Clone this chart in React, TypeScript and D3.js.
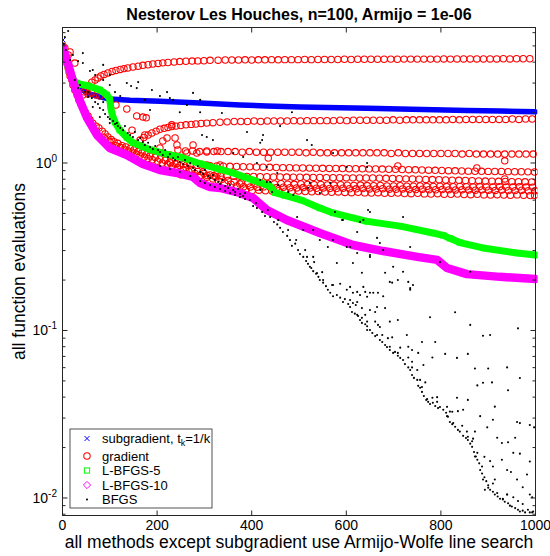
import React from "react";
import * as d3 from "d3";

const FONT = "'Liberation Sans', Arial, Helvetica, sans-serif";

const xTickValues = [0, 200, 400, 600, 800, 1000];
const yTickExponents = [-2, -1, 0];
const xDomain = [0, 1000];
const yDomain = [0.00786, 6.44];

const titleText = "Nesterov Les Houches, n=100, Armijo = 1e-06";
const xLabelText = "all methods except subgradient use Armijo-Wolfe line search";
const yLabelText = "all function evaluations";

// subgradient, t_k = 1/k
const subgradIter = [1, 7, 16, 26, 37, 58, 79, 100, 143, 206, 291, 375, 432, 502, 644, 714, 855, 925, 999];
const subgradVal = [5.42, 4.24, 3.49, 3.04, 2.77, 2.58, 2.48, 2.41, 2.37, 2.34, 2.28, 2.22, 2.19, 2.16, 2.12, 2.1, 2.06, 2.04, 2.02];

// gradient (red circles)
const gradStart = [[5, 4.86], [12, 4.41], [16, 4.6], [26, 3.95], [45, 2.66], [54, 2.58], [62, 2.62], [71, 2.55], [79, 2.51]];
const gradDescend = [[1, 5.0], [3, 4.6], [5, 4.35], [7, 4.12], [10, 3.9], [12, 3.69], [14, 3.49], [16, 3.31], [20, 3.13], [22, 2.92], [26, 2.73], [31, 2.55], [35, 2.38], [39, 2.25], [43, 2.13], [48, 2.01], [54, 1.91], [58, 1.81], [64, 1.73], [71, 1.66], [77, 1.62], [84, 1.55], [90, 1.49], [96, 1.43], [103, 1.38], [109, 1.34], [117, 1.31], [126, 1.27], [134, 1.246], [143, 1.22], [151, 1.196], [160, 1.17], [168, 1.147], [177, 1.12], [185, 1.1], [196, 1.08], [206, 1.056], [217, 1.035], [227, 1.014], [238, 0.986], [248, 0.966], [261, 0.94], [274, 0.915], [286, 0.89], [299, 0.866], [312, 0.848], [324, 0.825], [337, 0.8], [350, 0.786], [363, 0.77], [375, 0.75]];
const gradDescend2 = [[88, 1.41], [100, 1.345], [113, 1.27], [122, 1.24], [130, 1.21], [139, 1.18], [147, 1.16], [156, 1.13], [164, 1.11], [173, 1.085], [181, 1.065], [190, 1.045], [201, 1.025], [211, 1.0], [222, 0.985], [232, 0.963], [243, 0.937], [255, 0.915], [267, 0.89], [280, 0.867], [292, 0.845], [305, 0.823], [318, 0.803], [330, 0.78], [343, 0.76], [356, 0.747], [369, 0.73]];
const gradRowACurve = [[43, 2.55], [50, 2.76], [56, 2.88], [62, 3.04], [69, 3.13], [75, 3.22], [81, 3.31], [88, 3.38], [96, 3.45], [105, 3.52], [113, 3.57], [122, 3.62], [130, 3.66], [138, 3.69], [149, 3.74], [160, 3.78], [170, 3.83], [181, 3.86], [191, 3.9], [202, 3.93], [212, 3.96], [223, 3.98], [236, 4.01], [248, 4.03], [261, 4.05], [274, 4.06], [286, 4.07], [299, 4.08], [312, 4.1], [329, 4.11], [344, 4.12], [358, 4.12]];
const gradRowA = [[372, 4.12], [386, 4.13], [400, 4.12], [414, 4.13], [428, 4.13], [442, 4.14], [456, 4.13], [470, 4.14], [484, 4.14], [498, 4.14], [512, 4.15], [526, 4.14], [540, 4.15], [554, 4.15], [568, 4.15], [582, 4.15], [596, 4.16], [610, 4.15], [624, 4.16], [638, 4.16], [652, 4.16], [666, 4.16], [680, 4.16], [694, 4.17], [708, 4.16], [722, 4.17], [736, 4.17], [750, 4.17], [764, 4.17], [778, 4.17], [792, 4.17], [806, 4.18], [820, 4.17], [834, 4.18], [848, 4.18], [862, 4.18], [876, 4.18], [890, 4.18], [904, 4.18], [918, 4.18], [932, 4.19], [946, 4.18], [960, 4.19], [974, 4.19], [988, 4.19]];
const gradRowBCurve = [[164, 1.37], [172, 1.42], [181, 1.47], [189, 1.51], [198, 1.55], [206, 1.59], [215, 1.61], [223, 1.63], [231, 1.65], [240, 1.66], [250, 1.675], [261, 1.69], [272, 1.7], [282, 1.71], [293, 1.72], [305, 1.73], [318, 1.74], [333, 1.75], [348, 1.76], [363, 1.77]];
const gradRowB = [[377, 1.77], [391, 1.77], [405, 1.78], [419, 1.77], [433, 1.78], [447, 1.78], [461, 1.78], [475, 1.78], [489, 1.79], [503, 1.78], [517, 1.79], [531, 1.79], [545, 1.79], [559, 1.79], [573, 1.79], [587, 1.8], [601, 1.79], [615, 1.8], [629, 1.8], [643, 1.8], [657, 1.8], [671, 1.8], [685, 1.8], [699, 1.81], [713, 1.8], [727, 1.81], [741, 1.81], [755, 1.81], [769, 1.81], [783, 1.81], [797, 1.81], [811, 1.81], [825, 1.82], [839, 1.81], [853, 1.82], [867, 1.82], [881, 1.82], [895, 1.82], [909, 1.82], [923, 1.82], [937, 1.82], [951, 1.83], [965, 1.82], [979, 1.83], [993, 1.83]];
const gradRowC = [[260, 1.18], [275, 1.18], [290, 1.17], [305, 1.18], [320, 1.17], [335, 1.17], [350, 1.17], [365, 1.17], [380, 1.16], [395, 1.17], [410, 1.16], [425, 1.16], [440, 1.16], [455, 1.16], [470, 1.16], [485, 1.16], [500, 1.16], [515, 1.15], [530, 1.16], [545, 1.15], [560, 1.15], [575, 1.15], [590, 1.15], [605, 1.15], [620, 1.15], [635, 1.15], [650, 1.15], [665, 1.15], [680, 1.15], [695, 1.14], [710, 1.15], [725, 1.14], [740, 1.14], [755, 1.14], [770, 1.14], [785, 1.14], [800, 1.14], [815, 1.14], [830, 1.14], [845, 1.13], [860, 1.14], [875, 1.13], [890, 1.13], [905, 1.13], [920, 1.13], [935, 1.13], [950, 1.13], [965, 1.13], [980, 1.13], [995, 1.13]];
const gradRowD = [[228, 1.0], [242, 0.99], [256, 0.98], [270, 0.975], [284, 0.97], [298, 0.966], [312, 0.962], [326, 0.96], [340, 0.958], [354, 0.955], [368, 0.953], [382, 0.95], [396, 0.948], [410, 0.946], [424, 0.944], [438, 0.942], [452, 0.94], [466, 0.938], [480, 0.936], [494, 0.935], [508, 0.933], [522, 0.932], [536, 0.93], [550, 0.929], [564, 0.928], [578, 0.927], [592, 0.926], [606, 0.925], [620, 0.924], [634, 0.923], [648, 0.922], [662, 0.921], [676, 0.92], [690, 0.918], [704, 0.916], [718, 0.914], [732, 0.912], [746, 0.91], [760, 0.908], [774, 0.906], [788, 0.904], [802, 0.902], [816, 0.9], [830, 0.898], [844, 0.896], [858, 0.894], [872, 0.893], [886, 0.892], [900, 0.891], [914, 0.89], [928, 0.889], [942, 0.888], [956, 0.887], [970, 0.886], [984, 0.885], [998, 0.884]];
const gradRowE = [[250, 0.85], [264, 0.848], [278, 0.846], [292, 0.844], [306, 0.842], [320, 0.84], [334, 0.838], [348, 0.836], [362, 0.834], [376, 0.833], [390, 0.832], [404, 0.83], [418, 0.829], [432, 0.828], [446, 0.826], [460, 0.825], [474, 0.824], [488, 0.823], [502, 0.822], [516, 0.821], [530, 0.82], [544, 0.819], [558, 0.818], [572, 0.817], [586, 0.816], [600, 0.815], [614, 0.815], [628, 0.814], [642, 0.814], [656, 0.813], [670, 0.812], [684, 0.81], [698, 0.808], [712, 0.806], [726, 0.804], [740, 0.802], [754, 0.8], [768, 0.798], [782, 0.796], [796, 0.794], [810, 0.792], [824, 0.79], [838, 0.788], [852, 0.786], [866, 0.784], [880, 0.782], [894, 0.78], [908, 0.779], [922, 0.777], [936, 0.776], [950, 0.774], [964, 0.773], [978, 0.772], [992, 0.77]];
const gradRowF1 = [[378, 0.76], [392, 0.757], [406, 0.755], [420, 0.758], [434, 0.752], [448, 0.75], [462, 0.753], [476, 0.748], [490, 0.746], [504, 0.749], [518, 0.744], [532, 0.742], [546, 0.745], [560, 0.74], [574, 0.738], [588, 0.741], [602, 0.736], [616, 0.735], [630, 0.738], [644, 0.733], [658, 0.732], [672, 0.735], [686, 0.73], [700, 0.729], [714, 0.732], [728, 0.727], [742, 0.726], [756, 0.729], [770, 0.725], [784, 0.724], [798, 0.727], [812, 0.723], [826, 0.722], [840, 0.725], [854, 0.721], [868, 0.72], [882, 0.723], [896, 0.72], [910, 0.719], [924, 0.722], [938, 0.719], [952, 0.718], [966, 0.721], [980, 0.718], [994, 0.717]];
const gradRowF2 = [[383, 0.722], [397, 0.719], [411, 0.717], [425, 0.72], [439, 0.715], [453, 0.713], [467, 0.716], [481, 0.711], [495, 0.71], [509, 0.713], [523, 0.708], [537, 0.707], [551, 0.71], [565, 0.705], [579, 0.704], [593, 0.707], [607, 0.702], [621, 0.701], [635, 0.704], [649, 0.7], [663, 0.699], [677, 0.702], [691, 0.697], [705, 0.696], [719, 0.699], [733, 0.695], [747, 0.694], [761, 0.697], [775, 0.693], [789, 0.692], [803, 0.695], [817, 0.691], [831, 0.69], [845, 0.693], [859, 0.689], [873, 0.688], [887, 0.691], [901, 0.687], [915, 0.686], [929, 0.689], [943, 0.685], [957, 0.684], [971, 0.687], [985, 0.683], [999, 0.682]];
const gradRowF3 = [[387, 0.69], [401, 0.686], [415, 0.688], [429, 0.683], [443, 0.681], [457, 0.684], [471, 0.679], [485, 0.677], [499, 0.68], [513, 0.675], [527, 0.673], [541, 0.676], [555, 0.671], [569, 0.669], [583, 0.672], [597, 0.667], [611, 0.665], [625, 0.668], [639, 0.663], [653, 0.662], [667, 0.665], [681, 0.66], [695, 0.659], [709, 0.662], [723, 0.657], [737, 0.656], [751, 0.659], [765, 0.654], [779, 0.653], [793, 0.656], [807, 0.651], [821, 0.65], [835, 0.653], [849, 0.648], [863, 0.647], [877, 0.65], [891, 0.645], [905, 0.644], [919, 0.647], [933, 0.643], [947, 0.642], [961, 0.645], [975, 0.641], [989, 0.64], [998, 0.642]];
const gradLoose = [[113, 2.22], [136, 2.1], [157, 1.91], [177, 1.86], [231, 1.69], [212, 1.353], [221, 1.41], [238, 1.41], [242, 1.28], [244, 1.196], [276, 1.28], [284, 1.147], [305, 1.163], [327, 1.179], [263, 1.147], [227, 1.116], [263, 0.973], [297, 0.884], [305, 0.973], [333, 0.973], [327, 0.872], [206, 1.229], [170, 1.88], [147, 1.57], [174, 1.47], [435, 1.07], [935, 1.03], [876, 0.934], [709, 0.96], [935, 0.803]];

// L-BFGS-5 (green squares)
const lbfgs5 = [[1, 4.8], [8, 4.0], [16, 3.45], [26, 3.05], [37, 2.95], [52, 2.9], [79, 2.73], [94, 2.55], [100, 2.4], [102, 2.15], [105, 1.95], [111, 1.75], [121, 1.57], [136, 1.42], [149, 1.32], [170, 1.25], [185, 1.2], [220, 1.13], [249, 1.086], [291, 0.99], [333, 0.915], [361, 0.872], [403, 0.79], [432, 0.74], [440, 0.72], [449, 0.665], [470, 0.64], [505, 0.6], [544, 0.538], [572, 0.503], [614, 0.47], [644, 0.448], [714, 0.42], [783, 0.382], [805, 0.37], [819, 0.355], [840, 0.335], [889, 0.311], [961, 0.29], [1000, 0.282]];

// L-BFGS-10 (magenta diamonds)
const lbfgs10 = [[1, 4.86], [10, 4.06], [22, 3.09], [37, 2.34], [52, 1.857], [73, 1.47], [100, 1.229], [136, 1.116], [170, 0.986], [206, 0.908], [242, 0.872], [276, 0.825], [291, 0.76], [312, 0.719], [333, 0.709], [375, 0.662], [403, 0.618], [432, 0.524], [474, 0.457], [544, 0.382], [614, 0.324], [678, 0.298], [750, 0.275], [792, 0.264], [813, 0.236], [855, 0.217], [925, 0.209], [1000, 0.203]];

// BFGS (black dots)
const bfgsEarly = [[12, 6.14], [5, 5.65], [3, 5.13], [7, 4.73], [16, 4.12], [22, 4.41], [33, 4.06], [43, 4.53], [43, 3.95], [58, 3.54], [64, 3.59], [69, 3.35], [86, 3.85], [86, 3.13], [100, 3.35], [100, 2.92], [136, 3.0], [145, 2.88], [157, 2.8], [160, 3.04], [189, 2.73], [206, 2.51], [221, 2.65], [227, 2.44], [234, 2.38], [263, 2.22], [276, 2.62], [291, 2.38], [291, 2.01], [337, 1.99], [295, 1.47], [305, 1.43], [318, 1.37], [390, 1.53], [422, 1.37], [460, 1.66], [485, 2.01], [517, 1.37], [527, 1.28], [418, 1.32], [572, 1.147], [644, 0.946], [424, 1.47], [86, 2.31], [64, 2.16], [79, 1.88], [100, 1.73], [115, 1.73], [54, 2.65], [111, 2.65], [122, 2.51], [174, 2.38], [185, 2.07], [248, 2.01]];
const bfgsCloud = [[26, 3.13], [33, 2.8], [37, 2.92], [48, 2.66], [54, 2.48], [62, 2.44], [69, 2.31], [75, 2.25], [79, 2.13], [86, 2.07], [90, 1.96], [96, 1.88], [100, 1.83], [107, 1.78], [111, 1.71], [117, 1.66], [122, 1.62], [128, 1.57], [132, 1.66], [138, 1.51], [143, 1.47], [149, 1.43], [153, 1.53], [160, 1.37], [164, 1.41], [170, 1.335], [174, 1.28], [181, 1.32], [185, 1.246], [191, 1.21], [196, 1.263], [202, 1.196], [206, 1.163], [212, 1.116], [217, 1.196], [223, 1.086], [227, 1.13], [234, 1.071], [238, 1.042], [244, 1.086], [248, 1.014], [255, 0.986], [259, 1.042], [265, 0.96], [270, 1.0], [276, 0.934], [280, 0.908], [286, 0.96], [291, 0.884], [297, 0.86], [301, 0.908], [308, 0.836], [312, 0.814], [318, 0.848], [322, 0.792], [329, 0.77], [333, 0.749], [339, 0.792], [344, 0.729], [350, 0.709], [354, 0.739], [361, 0.69], [365, 0.671], [371, 0.7], [375, 0.653], [382, 0.635], [386, 0.662], [206, 0.96], [227, 0.921], [248, 0.884], [270, 0.836], [291, 0.781], [301, 0.76], [312, 0.739], [322, 0.719], [333, 0.7], [344, 0.681], [354, 0.662], [365, 0.644], [375, 0.627], [386, 0.61], [396, 0.601]];
const bfgsRidge = [[403, 0.553], [411, 0.538], [422, 0.51], [428, 0.483], [439, 0.476], [447, 0.444], [454, 0.43], [460, 0.41], [466, 0.387], [475, 0.367], [481, 0.347], [485, 0.32], [492, 0.33], [498, 0.302], [502, 0.286], [509, 0.275], [515, 0.26], [519, 0.25], [526, 0.236], [530, 0.226], [536, 0.218], [541, 0.209], [544, 0.2], [551, 0.193], [557, 0.184], [561, 0.175], [566, 0.168], [572, 0.16], [580, 0.163], [587, 0.157], [593, 0.148], [597, 0.154], [604, 0.144], [608, 0.138], [612, 0.129], [618, 0.126], [625, 0.122], [629, 0.1155], [633, 0.111], [640, 0.109], [644, 0.106], [650, 0.1007], [655, 0.0966], [661, 0.0926], [665, 0.094], [671, 0.0877], [676, 0.0853], [682, 0.0819], [686, 0.0796], [692, 0.0765], [699, 0.0735], [703, 0.0745], [709, 0.0706], [714, 0.0686], [720, 0.0667], [724, 0.063], [731, 0.0602], [735, 0.0581], [739, 0.0542], [743, 0.0521], [750, 0.0507], [752, 0.0467], [756, 0.0455], [760, 0.043], [764, 0.0406], [769, 0.0385], [773, 0.0375], [777, 0.0364], [783, 0.037], [788, 0.0354], [794, 0.0344], [798, 0.0349], [805, 0.0336], [811, 0.0323], [815, 0.0306], [819, 0.0284], [824, 0.0276], [830, 0.0266], [836, 0.0255], [840, 0.0249], [847, 0.0235], [853, 0.0228], [857, 0.0222], [862, 0.0211], [866, 0.0202], [870, 0.0188], [874, 0.0177], [877, 0.0169], [881, 0.0161], [883, 0.0147], [887, 0.014], [892, 0.0133], [896, 0.0126], [900, 0.0119], [904, 0.0112], [910, 0.0109], [914, 0.0105], [920, 0.0102], [925, 0.0099], [931, 0.0098], [935, 0.0095], [942, 0.0093], [946, 0.009], [950, 0.0089], [957, 0.0087], [963, 0.0085], [967, 0.0083], [973, 0.0084], [978, 0.0082], [984, 0.0085], [988, 0.0082], [995, 0.0083], [409, 0.577], [434, 0.524], [456, 0.457], [477, 0.398], [494, 0.347], [513, 0.302], [532, 0.256], [549, 0.223], [570, 0.187], [620, 0.142], [640, 0.124], [667, 0.108], [688, 0.09], [714, 0.079], [739, 0.065], [767, 0.049], [792, 0.04], [819, 0.0328], [845, 0.027], [868, 0.0226], [892, 0.0176], [914, 0.0129], [940, 0.0105], [963, 0.0096]];
const bfgsScatter = [[496, 0.476], [509, 0.398], [530, 0.398], [544, 0.347], [561, 0.315], [576, 0.51], [591, 0.457], [580, 0.253], [608, 0.315], [623, 0.387], [623, 0.29], [636, 0.457], [646, 0.524], [650, 0.275], [665, 0.357], [678, 0.302], [682, 0.221], [699, 0.24], [697, 0.193], [657, 0.168], [636, 0.182], [665, 0.138], [614, 0.253], [650, 0.282], [633, 0.221], [720, 0.224], [692, 0.195], [709, 0.2], [735, 0.175], [741, 0.187], [608, 0.182], [623, 0.17], [629, 0.163], [640, 0.17], [650, 0.168], [667, 0.168], [678, 0.16], [608, 0.152], [614, 0.146], [623, 0.148], [633, 0.136], [650, 0.1325], [661, 0.129], [682, 0.136], [623, 0.124], [633, 0.119], [644, 0.113], [661, 0.113], [671, 0.105], [692, 0.113], [709, 0.1155], [644, 0.1007], [676, 0.094], [697, 0.091], [728, 0.094], [760, 0.0853], [788, 0.0853], [777, 0.12], [830, 0.1285], [862, 0.108], [889, 0.093], [904, 0.094], [963, 0.103], [692, 0.08], [731, 0.08], [739, 0.0765], [709, 0.0735], [731, 0.069], [752, 0.0735], [739, 0.0602], [750, 0.0581], [763, 0.0622], [782, 0.069], [809, 0.0725], [834, 0.0686], [857, 0.0725], [940, 0.0602], [756, 0.0507], [760, 0.046], [771, 0.039], [782, 0.0397], [792, 0.0375], [813, 0.035], [834, 0.0397], [857, 0.0385], [872, 0.0593], [900, 0.0593], [967, 0.052], [877, 0.047], [889, 0.0487], [908, 0.049], [942, 0.044], [824, 0.0327], [836, 0.033], [847, 0.0336], [813, 0.0308], [826, 0.028], [855, 0.0249], [857, 0.0232], [866, 0.0218], [883, 0.0308], [898, 0.0264], [872, 0.0249], [910, 0.0293], [914, 0.0351], [961, 0.0284], [967, 0.028], [988, 0.0273], [997, 0.0264], [919, 0.0229], [929, 0.0213], [942, 0.0215], [957, 0.0229], [953, 0.0186], [967, 0.0184], [988, 0.0165], [940, 0.0147], [948, 0.0143], [961, 0.0129], [973, 0.0116], [988, 0.0105], [973, 0.0092], [953, 0.0101], [940, 0.0105], [910, 0.0154], [929, 0.0169], [904, 0.0166], [982, 0.0138], [993, 0.0101], [877, 0.0186], [872, 0.0177], [887, 0.0154], [889, 0.0129], [893, 0.0112], [900, 0.0115], [910, 0.0122], [919, 0.0107], [931, 0.0099], [993, 0.0082]];
const bfgsOnBands = [[593, 0.457], [629, 0.445], [650, 0.51], [720, 0.476], [572, 0.347], [601, 0.315], [671, 0.333], [735, 0.315], [731, 0.195], [735, 0.179], [798, 0.256], [862, 0.224], [517, 0.275], [530, 0.275], [523, 0.24], [538, 0.22], [551, 0.2], [572, 0.187], [587, 0.19], [601, 0.175], [614, 0.168], [644, 0.159], [382, 1.086], [411, 1.0], [432, 0.946], [454, 0.872], [439, 0.77], [418, 0.792], [418, 0.69], [443, 0.671], [432, 0.77], [456, 0.739], [477, 0.671], [519, 0.709], [566, 0.76], [523, 0.76], [601, 0.946], [644, 1.0], [361, 1.147], [488, 0.644], [544, 0.662]];

const RED = "#ff0000";
const BLUE = "#0000ff";
const GREEN = "#00ff00";
const MAGENTA = "#ff00ff";
const AXIS = "#262626";

export default function App() {
  const x = d3.scaleLinear().domain(xDomain).range([62.5, 535.5]);
  const y = d3.scaleLog().domain(yDomain).range([515.5, 27.5]);
  const L = 62.5, R = 535.5, T = 27.5, B = 515.5;

  const line = d3.line<number[]>().x((d) => x(d[0])).y((d) => y(d[1]));
  const subPts = subgradIter.map((it, i) => [it, subgradVal[i]]);

  const gradAll = [
    ...gradStart, ...gradDescend, ...gradDescend2, ...gradRowACurve, ...gradRowA,
    ...gradRowBCurve, ...gradRowB, ...gradRowC, ...gradRowD, ...gradRowE,
    ...gradRowF1, ...gradRowF2, ...gradRowF3, ...gradLoose,
  ];
  const bfgsAll = [...bfgsEarly, ...bfgsCloud, ...bfgsRidge, ...bfgsScatter, ...bfgsOnBands];

  const minorTicks: number[] = [];
  for (let e = -3; e <= 0; e++) {
    for (let k = 2; k <= 9; k++) {
      const v = k * Math.pow(10, e);
      if (v > yDomain[0] && v < yDomain[1]) minorTicks.push(v);
    }
  }

  const xMark = (cx: number, cy: number, s: number) =>
    `M${cx - s},${cy - s}L${cx + s},${cy + s}M${cx - s},${cy + s}L${cx + s},${cy - s}`;
  const diamond = (cx: number, cy: number, s: number) =>
    `M${cx},${cy - s}L${cx + s},${cy}L${cx},${cy + s}L${cx - s},${cy}Z`;

  const legendX = 87;
  const legendTextX = 102;
  const legendRows = [438.5, 456, 470.5, 485, 499.5];
  const CR = 3.2;

  return (
    <svg
      width={550}
      height={556}
      style={{ position: "absolute", left: 0, top: 0, display: "block", background: "#fff" }}
      fontFamily={FONT}
    >
      <rect x={0} y={0} width={550} height={556} fill="#fff" />
      <defs>
        <clipPath id="plotclip">
          <rect x={L} y={T - 2} width={R - L + 2} height={B - T + 2} />
        </clipPath>
      </defs>

      <g clipPath="url(#plotclip)">
        {/* subgradient */}
        <path d={line(subPts.slice(1)) || ""} fill="none" stroke={BLUE} strokeWidth={5.5} strokeLinejoin="round" strokeLinecap="round" />
        {subPts.slice(0, 2).map((d, i) => (
          <path key={"sx" + i} d={xMark(x(d[0]), y(d[1]), 2.5)} stroke={BLUE} strokeWidth={1} fill="none" />
        ))}

        {/* gradient */}
        {gradAll.map((d, i) => (
          <circle key={"g" + i} cx={x(d[0])} cy={y(d[1])} r={CR} fill="none" stroke={RED} strokeWidth={1.05} />
        ))}

        {/* L-BFGS-5 */}
        <path d={line(lbfgs5) || ""} fill="none" stroke={GREEN} strokeWidth={7} strokeLinejoin="round" strokeLinecap="round" />
        {lbfgs5.map((d, i) => (
          <rect key={"l5" + i} x={x(d[0]) - 2.6} y={y(d[1]) - 2.6} width={5.2} height={5.2} fill="none" stroke={GREEN} strokeWidth={1} />
        ))}

        {/* L-BFGS-10 */}
        <path d={line(lbfgs10) || ""} fill="none" stroke={MAGENTA} strokeWidth={8.5} strokeLinejoin="round" strokeLinecap="round" />
        {lbfgs10.map((d, i) => (
          <path key={"l10" + i} d={diamond(x(d[0]), y(d[1]), 3.6)} fill="none" stroke={MAGENTA} strokeWidth={1} />
        ))}

        {/* BFGS */}
        {bfgsAll.map((d, i) => (
          <circle key={"b" + i} cx={x(d[0])} cy={y(d[1])} r={1.05} fill="#000" />
        ))}
      </g>

      {/* axes frame */}
      <rect x={L} y={T} width={R - L} height={B - T} fill="none" stroke={AXIS} strokeWidth={1} />

      {/* x ticks */}
      {xTickValues.map((v) => (
        <g key={"xt" + v}>
          <line x1={x(v)} x2={x(v)} y1={B} y2={B - 5} stroke={AXIS} strokeWidth={1} />
          <line x1={x(v)} x2={x(v)} y1={T} y2={T + 5} stroke={AXIS} strokeWidth={1} />
          <text x={x(v)} y={530} fontSize={14} textAnchor="middle" fill="#000">{v}</text>
        </g>
      ))}

      {/* y major ticks */}
      {yTickExponents.map((e) => {
        const py = y(Math.pow(10, e));
        return (
          <g key={"yt" + e}>
            <line x1={L} x2={L + 5} y1={py} y2={py} stroke={AXIS} strokeWidth={1} />
            <line x1={R} x2={R - 5} y1={py} y2={py} stroke={AXIS} strokeWidth={1} />
            <text x={57} y={py + 5} fontSize={14} textAnchor="end" fill="#000">
              <tspan>10</tspan>
              <tspan dy={-6} fontSize={10}>{e === 0 ? "0" : "-" + Math.abs(e)}</tspan>
            </text>
          </g>
        );
      })}
      {minorTicks.map((v, i) => (
        <g key={"ym" + i}>
          <line x1={L} x2={L + 3} y1={y(v)} y2={y(v)} stroke={AXIS} strokeWidth={1} />
          <line x1={R} x2={R - 3} y1={y(v)} y2={y(v)} stroke={AXIS} strokeWidth={1} />
        </g>
      ))}

      {/* title and labels */}
      <text x={299} y={20} fontSize={16} fontWeight="bold" textAnchor="middle" fill="#000">{titleText}</text>
      <text x={299} y={548} fontSize={17.5} textAnchor="middle" fill="#000">{xLabelText}</text>
      <text transform="translate(25,271.5) rotate(-90)" fontSize={17.5} textAnchor="middle" fill="#000">{yLabelText}</text>

      {/* legend */}
      <rect x={70} y={429} width={142} height={79} fill="#fff" stroke={AXIS} strokeWidth={0.8} />
      <path d={xMark(legendX, legendRows[0], 2.5)} stroke={BLUE} strokeWidth={1} fill="none" />
      <circle cx={legendX} cy={legendRows[1]} r={CR} fill="none" stroke={RED} strokeWidth={1.05} />
      <rect x={legendX - 2.6} y={legendRows[2] - 2.6} width={5.2} height={5.2} fill="none" stroke={GREEN} strokeWidth={1} />
      <path d={diamond(legendX, legendRows[3], 3.6)} fill="none" stroke={MAGENTA} strokeWidth={1} />
      <circle cx={legendX} cy={legendRows[4]} r={1.05} fill="#000" />
      <text x={legendTextX} y={legendRows[0] + 4.5} fontSize={13} fill="#000">
        <tspan>subgradient, t</tspan>
        <tspan dy={3} fontSize={9}>k</tspan>
        <tspan dy={-3}>=1/k</tspan>
      </text>
      <text x={legendTextX} y={legendRows[1] + 4.5} fontSize={13} fill="#000">gradient</text>
      <text x={legendTextX} y={legendRows[2] + 4.5} fontSize={13} fill="#000">L-BFGS-5</text>
      <text x={legendTextX} y={legendRows[3] + 4.5} fontSize={13} fill="#000">L-BFGS-10</text>
      <text x={legendTextX} y={legendRows[4] + 4.5} fontSize={13} fill="#000">BFGS</text>
    </svg>
  );
}
